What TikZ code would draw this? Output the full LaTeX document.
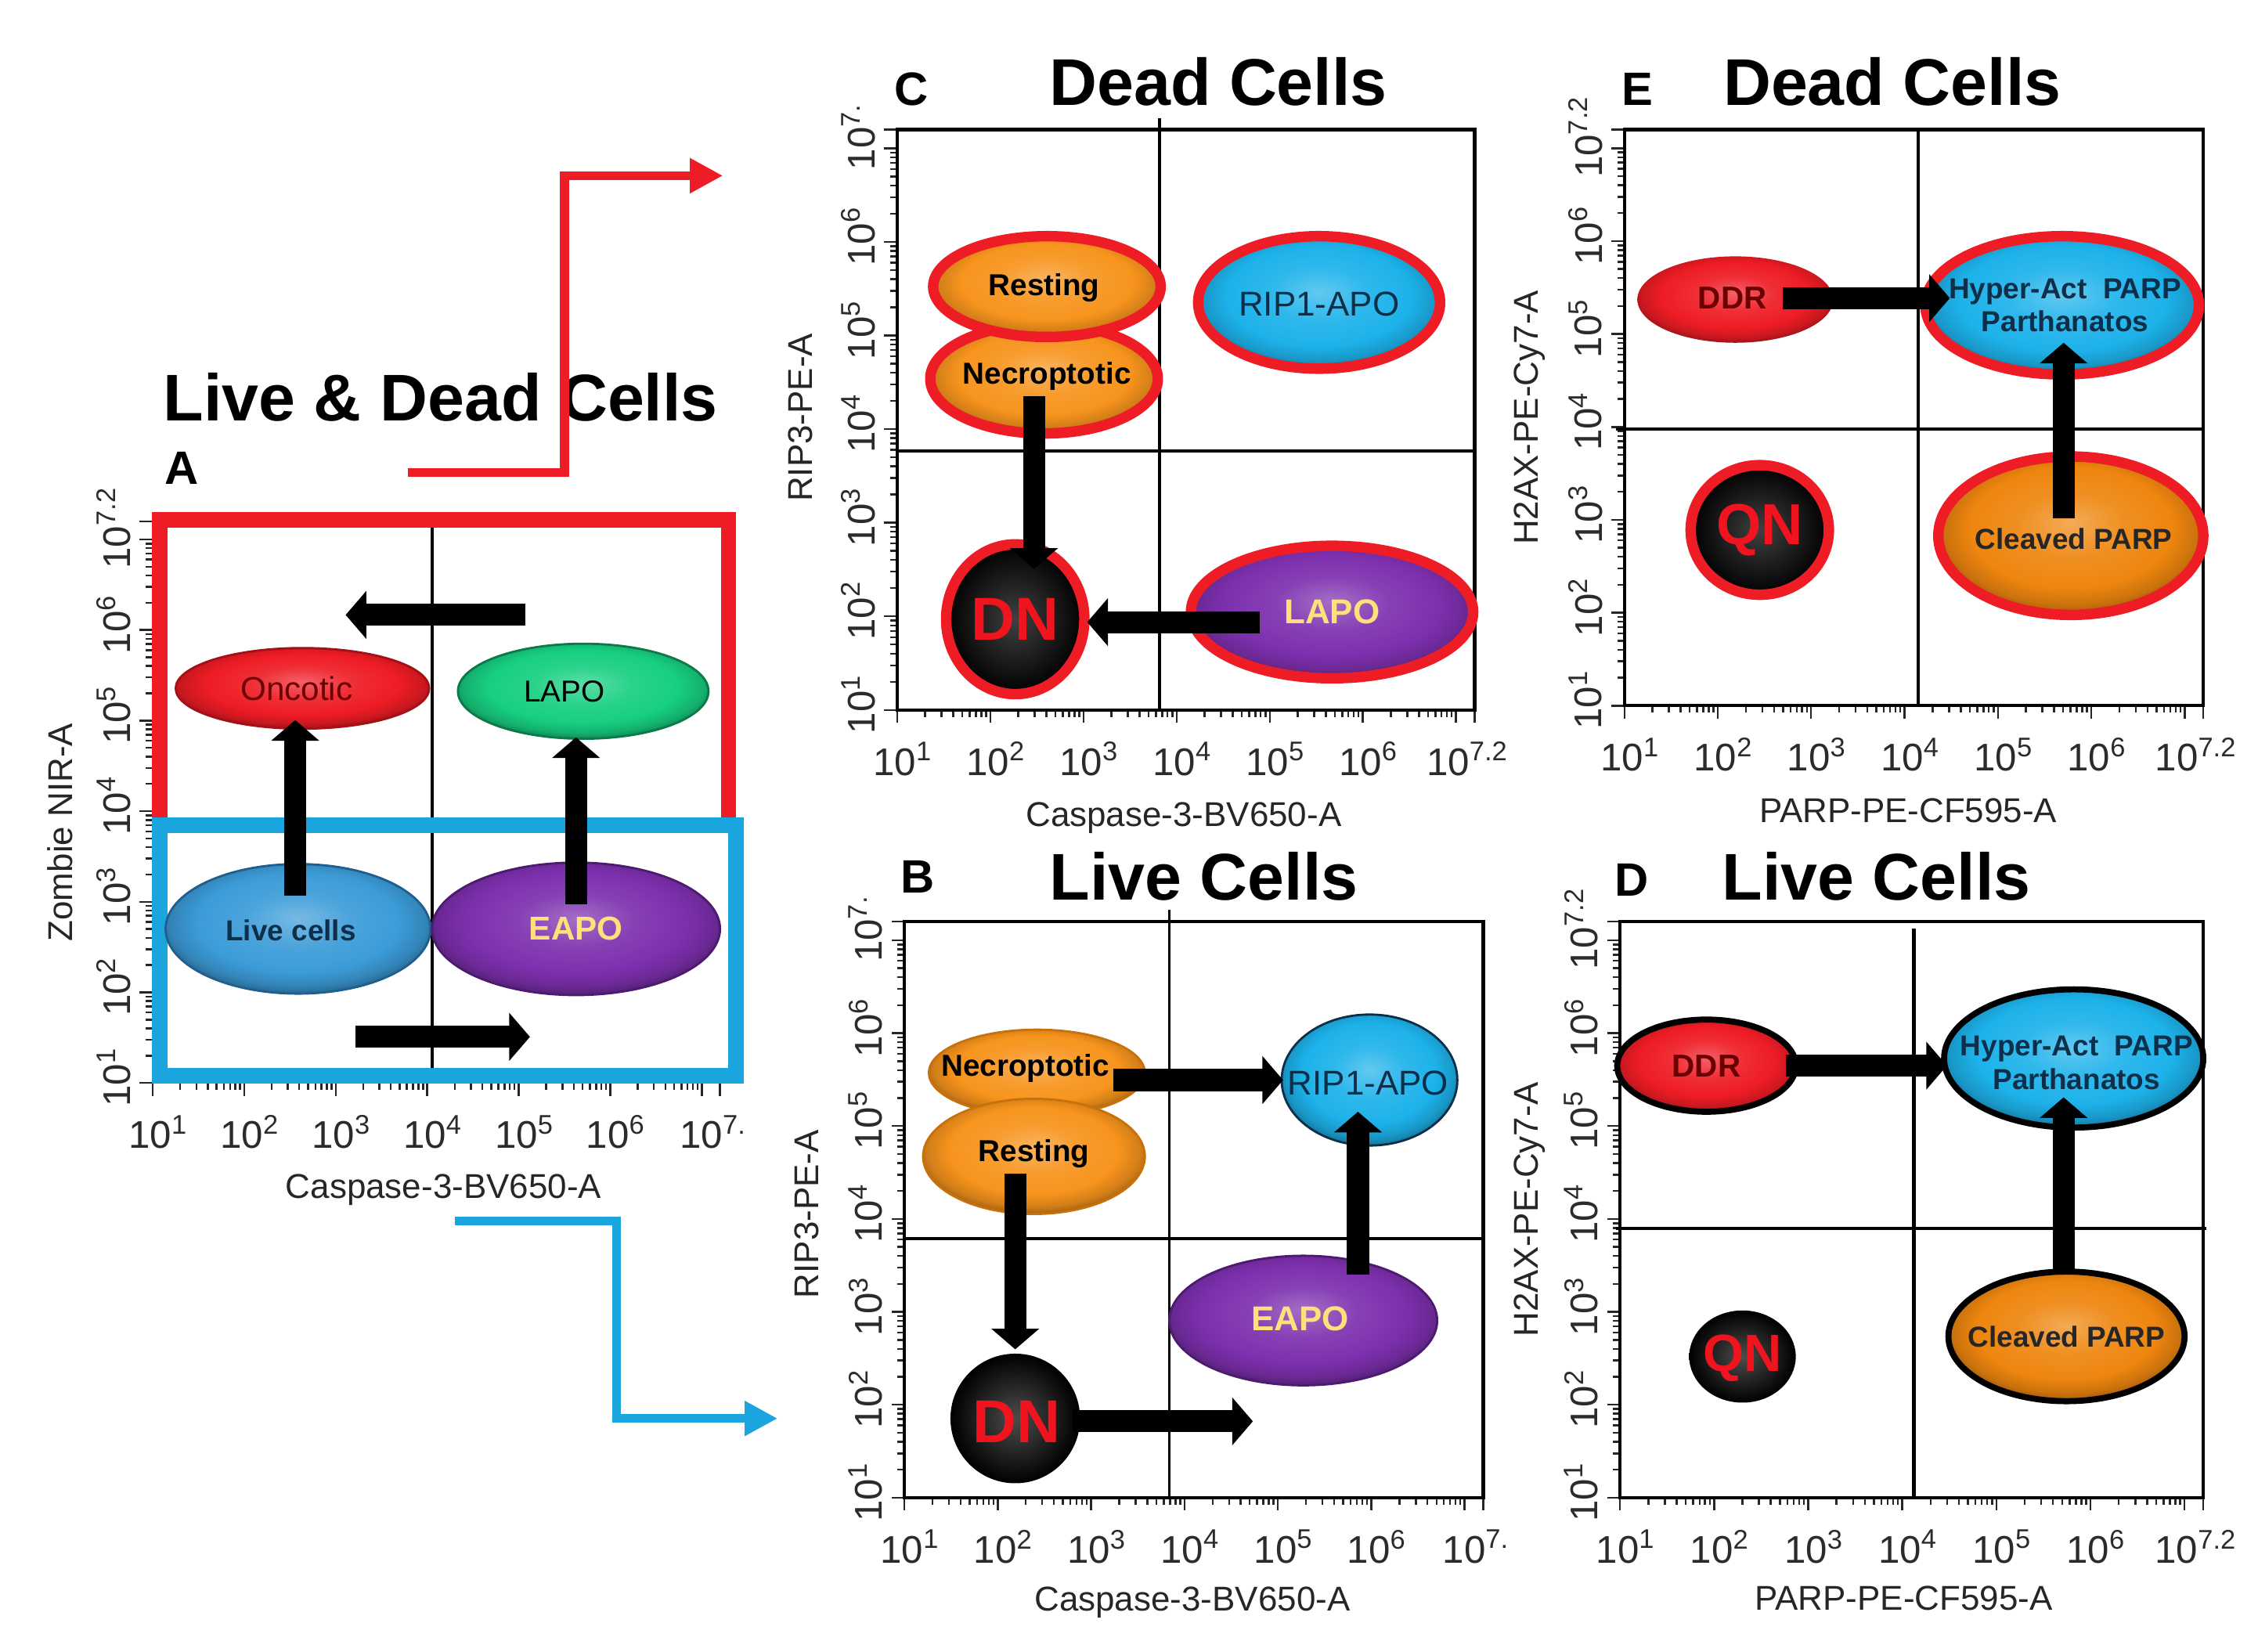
\documentclass[tikz,border=0pt]{standalone}
\usepackage{fontspec}
\setmainfont{Liberation Sans}
\usetikzlibrary{shapes.geometric,arrows.meta,calc}
\newcommand{\fcpu}{0.018393cm}
\definecolor{redR}{HTML}{EE1C25}
\definecolor{redD}{HTML}{A50F15}
\definecolor{orng}{HTML}{F7941D}
\definecolor{orngD}{HTML}{C8700A}
\definecolor{orngE}{HTML}{EE860F}
\definecolor{cyanC}{HTML}{1DB2EA}
\definecolor{purp}{HTML}{7D30AE}
\definecolor{purpD}{HTML}{4E1A70}
\definecolor{grnA}{HTML}{17CF80}
\definecolor{grnD}{HTML}{0B7A48}
\definecolor{bluA}{HTML}{3C9CD8}
\definecolor{bluD}{HTML}{1F5F8F}
\definecolor{rectB}{HTML}{1AA5DF}
\definecolor{ylwT}{HTML}{FFE07A}
\definecolor{tickc}{HTML}{2B2B2B}
\definecolor{dnred}{HTML}{F0141E}
\definecolor{navyT}{HTML}{0E2F4A}
\definecolor{onct}{HTML}{6B0000}
\colorlet{gcol}{red}
\pgfdeclareradialshading[gcol]{glossy}{\pgfpoint{0bp}{4bp}}{%
 color(0bp)=(gcol!70!white); color(10bp)=(gcol!92!white); color(19bp)=(gcol); color(24bp)=(gcol!85!black); color(27bp)=(gcol!65!black); color(50bp)=(gcol!65!black)}

\newcommand{\fcaxes}[7]{%
 \pgfmathsetmacro{\fcdx}{(#3-#1)/6.2}%
 \pgfmathsetmacro{\fcdy}{(#4-#2)/6.2}%
 \foreach \k in {0,...,6}{%
   \draw[ticks] ({#1+\k*\fcdx},#4) -- ++(0,9);
   \draw[ticks] (#1,{#4-\k*\fcdy}) -- ++(-9,0);
   \foreach \m in {2,...,9}{%
     \pgfmathsetmacro{\fcp}{\k+log10(\m)}%
     \pgfmathtruncatemacro{\fcq}{\fcp<6.2}%
     \ifnum\fcq=1
       \draw[ticks] ({#1+\fcp*\fcdx},#4) -- ++(0,5);
       \draw[ticks] (#1,{#4-\fcp*\fcdy}) -- ++(-5,0);
     \fi
   }
 }
 \draw[ticks] (#3,#4) -- ++(0,9);
 \draw[ticks] (#1,#2) -- ++(-9,0);
 \foreach \k in {0,...,5}{%
   \pgfmathtruncatemacro{\fce}{\k+1}%
   \node[tlab] (#7x\k) at ({#1+\k*\fcdx+4},{#4+34}) {10\textsuperscript{\fce}};
   \node[tlab, rotate=90] (#7y\k) at ({#1-27},{#4-\k*\fcdy-4}) {10\textsuperscript{\fce}};
 }
 \node[tlab] (#7x6) at ({#1+6*\fcdx+8},{#4+34}) {10\textsuperscript{#5}};
 \node[tlab, rotate=90] (#7y6) at ({#1-27},{#4-6*\fcdy-8}) {10\textsuperscript{#6}};
}

\begin{document}
\begin{tikzpicture}[x=0.018393cm,y=-0.018393cm,
 ticks/.style={line width=0.7pt, draw=black!85},
 pframe/.style={line width=1.2pt, draw=black},
 gate/.style={line width=1.1pt, draw=black},
 tlab/.style={font=\fontsize{14}{14}\selectfont, text=tickc, inner sep=0pt},
 axlab/.style={font=\fontsize{12.5}{13}\selectfont, text=black!85, inner sep=0pt},
 ttl/.style={font=\bfseries\fontsize{24}{24}\selectfont, inner sep=0pt, anchor=base},
 plet/.style={font=\bfseries\fontsize{17}{18}\selectfont, inner sep=0pt, anchor=base},
 cell/.style 2 args={ellipse, inner sep=0pt, outer sep=0pt, minimum width={#1*\fcpu}, minimum height={#2*\fcpu}},
 gl/.style={/utils/exec={\colorlet{gcol}{#1}}, shade, shading=glossy},
 ring/.style={draw=redR, line width=3.8pt},
 bring/.style={draw=black, line width=2.2pt},
 olc/.style={draw=#1, line width=0.8pt},
 ctb/.style={font=\bfseries\fontsize{11}{12.5}\selectfont, inner sep=0pt, align=center},
 ctr/.style={font=\fontsize{12}{13}\selectfont, inner sep=0pt, align=center},
 big/.style={font=\bfseries\fontsize{22}{22}\selectfont, inner sep=0pt, text=dnred},
 blk/.style={line width=8pt, draw=black, -{Triangle[length=7.5pt,width=17pt]}},
 conn/.style={line width=3.2pt, draw=#1, -{Triangle[length=12pt,width=12pt]}},
]
\useasboundingbox (0,0) rectangle (1568,1147);

% ================= Panel A =================
\fcaxes{106}{362}{500}{752}{7.}{7.2}{pa}
\draw[gate] (300,365) -- (300,752);
\draw[redR, line width=5.5pt] (111,570) -- (111,361) -- (506,361) -- (506,570);
\draw[rectB, line width=5.5pt] (111,573) rectangle (511,747);
\node[ttl] (ttlA) at (306,292) {Live \& Dead Cells};
\node[plet] (letA) at (126,336) {A};
\node[axlab] (xlabA) at (308,826) {Caspase-3-BV650-A};
\node[axlab, rotate=90] (ylabA) at (42,578) {Zombie NIR-A};

\node[cell={176}{56}, olc=redD, gl=redR] (oncA) at (210,478) {};
\node[cell={174}{66}, olc=grnD, gl=grnA] (lapoA) at (405,480) {};
\node[cell={184}{90}, olc=bluD, gl=bluA] (liveA) at (207,645) {};
\node[cell={200}{92}, olc=purpD, gl=purp] (eapoA) at (400,645) {};
\node[ctr, text=onct] (oncAt) at (206,478) {Oncotic};
\node[ctr, font=\fontsize{11}{12}\selectfont] (lapoAt) at (392,480) {LAPO};
\node[ctb, text=navyT, font=\bfseries\fontsize{10.5}{12}\selectfont] (liveAt) at (202,646) {Live cells};
\node[ctb, text=ylwT, font=\bfseries\fontsize{12}{13}\selectfont] (eapoAt) at (400,645) {EAPO};

\coordinate (aA1) at (365,427);
\coordinate (aA2) at (240,427);
\draw[blk] (aA1) -- (aA2);
\draw[blk] ($(liveA.center)+(-2,-23)$) -- ($(oncA.center)+(-5,22)$);
\draw[blk] ($(eapoA.center)+(0,-17)$) -- ($(lapoA.center)+(-5,32)$);
\coordinate (aA3) at (247,720);
\coordinate (aA4) at (368,720);
\draw[blk] (aA3) -- (aA4);

% connectors
\coordinate (redS) at (283,328);
\coordinate (redE) at (502,122);
\draw[conn=redR] (redS) -- (392,328) -- (392,122) -- (redE);
\coordinate (bluS) at (316,848);
\coordinate (bluE) at (540,985);
\draw[conn=rectB] (bluS) -- (428,848) -- (428,985) -- (bluE);

% ================= Panel C =================
\fcaxes{623}{90}{1024}{493}{7.2}{7.}{pc}
\draw[pframe] (623,90) rectangle (1024,493);
\draw[gate] (805,82) -- (805,493);
\draw[gate] (623,313) -- (1024,313);
\node[plet] (letC) at (633,73) {C};
\node[ttl] (ttlC) at (846,73) {Dead Cells};
\node[axlab] (xlabC) at (822,568) {Caspase-3-BV650-A};
\node[axlab, rotate=90] (ylabC) at (556,290) {RIP3-PE-A};

\node[cell={158}{76}, ring, gl=orng] (necC) at (725,263) {};
\node[cell={158}{70}, ring, gl=orng] (restC) at (727,199) {};
\node[cell={168}{92}, ring, gl=cyanC] (ripC) at (916,210) {};
\node[cell={96}{104}, ring, inner color=black!75, outer color=black] (dnC) at (705,430) {};
\node[cell={196}{92}, ring, gl=purp] (lapoC) at (925,425) {};
\node[ctb] (necCt) at (727,261) {Necroptotic};
\node[ctb] (restCt) at (725,200) {Resting};
\node[ctr, text=navyT, font=\fontsize{12.5}{13}\selectfont] (ripCt) at (916,211) {RIP1-APO};
\node[big] (dnCt) at (705,430) {DN};
\node[ctb, text=ylwT, font=\bfseries\fontsize{12.5}{13}\selectfont] (lapoCt) at (925,425) {LAPO};
\draw[blk] ($(necC.center)+(-7,12)$) -- ($(dnC.center)+(13,-35)$);
\draw[blk] ($(lapoC.center)+(-50,7)$) -- ($(dnC.center)+(50,2)$);

% ================= Panel B =================
\fcaxes{628}{640}{1030}{1040}{7.}{7.}{pb}
\draw[pframe] (628,640) rectangle (1030,1040);
\draw[gate] (812,632) -- (812,1040);
\draw[gate] (628,860) -- (1030,860);
\node[plet] (letB) at (637,620) {B};
\node[ttl] (ttlB) at (836,625) {Live Cells};
\node[axlab] (xlabB) at (828,1113) {Caspase-3-BV650-A};
\node[axlab, rotate=90] (ylabB) at (560,843) {RIP3-PE-A};

\node[cell={150}{60}, olc=orngD, gl=orng] (necB) at (720,745) {};
\node[cell={154}{80}, olc=orngD, gl=orng] (restB) at (718,803) {};
\node[cell={122}{91}, olc=navyT, gl=cyanC] (ripB) at (951,750) {};
\node[cell={186}{90}, olc=purpD, gl=purp] (eapoB) at (905,917) {};
\node[cell={90}{90}, inner color=black!70, outer color=black] (dnB) at (705,985) {};
\node[ctb] (necBt) at (712,742) {Necroptotic};
\node[ctb] (restBt) at (718,801) {Resting};
\node[ctr, text=navyT, font=\fontsize{12.5}{13}\selectfont] (ripBt) at (950,752) {RIP1-APO};
\node[ctb, text=ylwT, font=\bfseries\fontsize{12.5}{13}\selectfont] (eapoBt) at (903,916) {EAPO};
\node[big] (dnBt) at (706,987) {DN};
\draw[blk] ($(necB.center)+(53,5)$) -- ($(ripB.center)+(-60,0)$);
\draw[blk] ($(eapoB.center)+(38,-32)$) -- ($(ripB.center)+(-8,22)$);
\draw[blk] ($(restB.center)+(-13,12)$) -- ($(dnB.center)+(0,-48)$);
\coordinate (aB4) at (870,987);
\draw[blk] ($(dnB.center)+(40,2)$) -- (aB4);

% ================= Panel E =================
\fcaxes{1128}{90}{1530}{490}{7.2}{7.2}{pe}
\draw[pframe] (1128,90) rectangle (1530,490);
\draw[gate, line width=1.4pt] (1332,90) -- (1332,490);
\draw[gate] (1122,298) -- (1530,298);
\node[plet] (letE) at (1137,73) {E};
\node[ttl] (ttlE) at (1314,73) {Dead Cells};
\node[axlab] (xlabE) at (1325,563) {PARP-PE-CF595-A};
\node[axlab, rotate=90] (ylabE) at (1062,290) {H2AX-PE-Cy7-A};

\node[cell={136}{60}, gl=redR] (ddrE) at (1205,208) {};
\node[cell={190}{96}, ring, gl=cyanC] (hypE) at (1432,212) {};
\node[cell={96}{90}, ring, inner color=black!75, outer color=black] (qnE) at (1222,368) {};
\node[cell={184}{110}, ring, gl=orngE] (clvE) at (1438,372) {};
\node[ctb, text=onct, font=\bfseries\fontsize{11.5}{12}\selectfont] (ddrEt) at (1203,207) {DDR};
\node[ctb, text=navyT, font=\bfseries\fontsize{10.5}{12}\selectfont] (hypEt) at (1434,212) {Hyper-Act\ \ PARP\\Parthanatos};
\node[big, font=\bfseries\fontsize{21}{21}\selectfont] (qnEt) at (1222,368) {QN};
\node[ctb, text=black!85, font=\bfseries\fontsize{10.5}{12}\selectfont] (clvEt) at (1440,374) {Cleaved PARP};
\draw[blk] ($(ddrE.center)+(33,-1)$) -- ($(hypE.center)+(-78,-5)$);
\draw[blk] ($(clvE.center)+(-5,-12)$) -- ($(hypE.center)+(1,26)$);

% ================= Panel D =================
\fcaxes{1125}{640}{1530}{1040}{7.2}{7.2}{pd}
\draw[pframe] (1125,640) rectangle (1530,1040);
\draw[gate, line width=1.4pt] (1329,645) -- (1329,1040);
\draw[gate] (1122,853) -- (1532,853);
\node[plet] (letD) at (1133,622) {D};
\node[ttl] (ttlD) at (1303,625) {Live Cells};
\node[axlab] (xlabD) at (1322,1110) {PARP-PE-CF595-A};
\node[axlab, rotate=90] (ylabD) at (1062,840) {H2AX-PE-Cy7-A};

\node[cell={124}{64}, bring, gl=redR] (ddrD) at (1185,740) {};
\node[cell={180}{96}, bring, gl=cyanC] (hypD) at (1440,735) {};
\node[cell={74}{64}, inner color=black!70, outer color=black] (qnD) at (1210,942) {};
\node[cell={164}{90}, bring, gl=orngE] (clvD) at (1435,928) {};
\node[ctb, text=onct, font=\bfseries\fontsize{11.5}{12}\selectfont] (ddrDt) at (1185,740) {DDR};
\node[ctb, text=navyT, font=\bfseries\fontsize{10.5}{12}\selectfont] (hypDt) at (1442,738) {Hyper-Act\ \ PARP\\Parthanatos};
\node[big, font=\bfseries\fontsize{19}{19}\selectfont] (qnDt) at (1210,943) {QN};
\node[ctb, text=black!85, font=\bfseries\fontsize{10.5}{12}\selectfont] (clvDt) at (1435,928) {Cleaved PARP};
\draw[blk] ($(ddrD.center)+(55,0)$) -- ($(hypD.center)+(-88,5)$);
\draw[blk] ($(clvD.center)+(-2,-46)$) -- ($(hypD.center)+(-7,27)$);
\end{tikzpicture}
\end{document}
